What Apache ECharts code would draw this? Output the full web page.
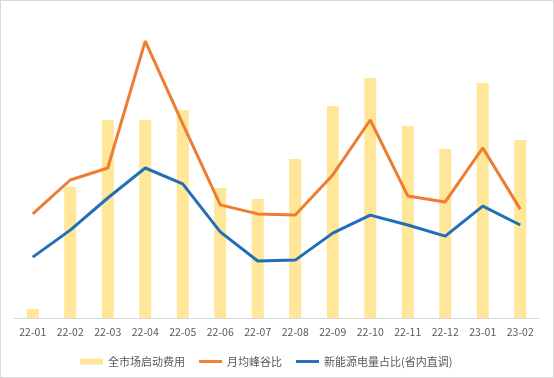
<!DOCTYPE html>
<html>
<head>
<meta charset="utf-8">
<script src="https://cdn.jsdelivr.net/npm/echarts@6/dist/echarts.min.js"></script>
<style>
  html, body { margin: 0; padding: 0; background: #fff; }
  #chart { width: 554px; height: 378px; box-sizing: border-box; border: 1px solid #d9d9d9; }
</style>
</head>
<body>
<div id="chart"></div>
<script>
// months on the x axis
const months = ["22-01", "22-02", "22-03", "22-04", "22-05", "22-06", "22-07",
  "22-08", "22-09", "22-10", "22-11", "22-12", "23-01", "23-02"];
// 全市场启动费用 (relative)
const startupCost = [3, 43.7, 66, 66, 69.3, 43.3, 39.7, 53, 70.7, 80, 64, 56.3, 78.3, 59.3];
// 月均峰谷比
const peakValley = [34.7, 46, 50, 92.3, 64.7, 37.7, 34.7, 34.3, 47.7, 66, 40.7, 38.7, 56.7, 36.3];
// 新能源电量占比(省内直调)
const newEnergy = [20.3, 29.3, 40, 50, 44.7, 28.7, 19, 19.3, 28.3, 34.3, 31, 27.3, 37.3, 31];

const chart = echarts.init(document.getElementById("chart"));
const font = "'Noto Sans CJK SC', 'Noto Sans', sans-serif";
const lineIcon = "path://M0,0h24v3h-24z";

const option = {
  animation: false,
  textStyle: { fontFamily: font },
  grid: { left: 13, right: 14, top: 17, bottom: 59 },
  legend: {
    left: 74,
    top: 350,
    itemWidth: 23,
    itemHeight: 6,
    itemGap: 14,
    textStyle: { fontSize: 11, color: "#595959", fontFamily: font },
    data: [
      { name: "全市场启动费用", icon: "rect" },
      { name: "月均峰谷比", icon: lineIcon },
      { name: "新能源电量占比(省内直调)", icon: lineIcon }
    ]
  },
  xAxis: {
    type: "category",
    data: months,
    axisLine: { lineStyle: { color: "#d9d9d9" } },
    axisTick: { show: false },
    axisLabel: { color: "#595959", fontSize: 10.5, margin: 9 }
  },
  yAxis: {
    type: "value",
    min: 0,
    max: 100,
    show: false,
    splitLine: { show: false }
  },
  series: [
    {
      name: "全市场启动费用",
      type: "bar",
      data: startupCost,
      barWidth: 12,
      itemStyle: { color: "#FFE699" }
    },
    {
      name: "月均峰谷比",
      type: "line",
      data: peakValley,
      symbol: "none",
      lineStyle: { color: "#ED7D31", width: 3 },
      itemStyle: { color: "#ED7D31" }
    },
    {
      name: "新能源电量占比(省内直调)",
      type: "line",
      data: newEnergy,
      symbol: "none",
      lineStyle: { color: "#1F6FBA", width: 3 },
      itemStyle: { color: "#1F6FBA" }
    }
  ]
};

chart.setOption(option);
</script>
</body>
</html>
